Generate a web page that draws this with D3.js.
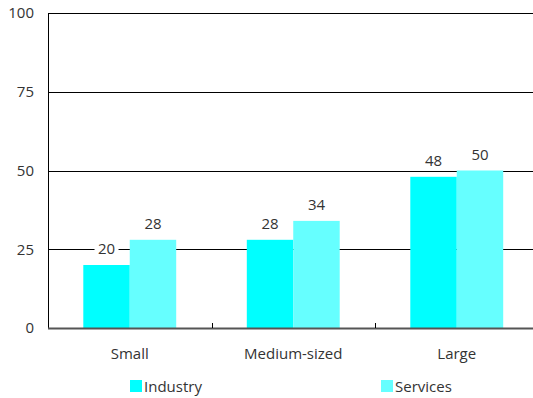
<!DOCTYPE html>
<html>
<head>
<meta charset="utf-8">
<script src="https://cdn.jsdelivr.net/npm/d3@7"></script>
<style>
  html, body { margin: 0; padding: 0; background: #fff; }
  svg { display: block; }
  text { font-family: "Open Sans", "Noto Sans", sans-serif; fill: #333; }
</style>
</head>
<body>
<svg id="chart" width="533" height="398"></svg>
<script>
// Share of firms by size class, industry vs services
const categories = ["Small", "Medium-sized", "Large"];
const seriesNames = ["Industry", "Services"];
const industry = [20, 28, 48];
const services = [28, 34, 50];
const yTicks = [0, 25, 50, 75, 100];
const colors = ["#00FFFF", "#66FFFF"];

const svg = d3.select("#chart");
const margin = { left: 48, top: 13, bottom: 70 };
const plotW = 490.5;
const plotH = 398 - margin.top - margin.bottom;
const fontSize = "15px";

const x = d3.scaleBand().domain(categories).range([margin.left, margin.left + plotW]).paddingInner(0).paddingOuter(0);
const inner = d3.scaleBand().domain(seriesNames).range([0, x.bandwidth()]).paddingInner(0).paddingOuter(0.76);
const y = d3.scaleLinear().domain([0, 100]).range([margin.top + plotH, margin.top]);

// Horizontal gridlines
svg.append("g").selectAll("line").data(yTicks.filter(t => t > 0)).join("line")
  .attr("x1", margin.left).attr("x2", margin.left + plotW)
  .attr("y1", d => Math.round(y(d)) + 0.5).attr("y2", d => Math.round(y(d)) + 0.5)
  .attr("stroke", "#000").attr("stroke-width", 1);

// Y axis labels
const yAxis = d3.axisLeft(y).tickValues(yTicks).tickSize(0).tickPadding(14);
const yg = svg.append("g").attr("transform", `translate(${margin.left},0)`).call(yAxis);
yg.select(".domain").remove();
yg.selectAll("text").style("font-size", fontSize).attr("fill", "#333")
  .style("font-family", '"Open Sans", "Noto Sans", sans-serif');

// Bars
const rows = categories.map((c, i) => ({ cat: c, vals: [industry[i], services[i]] }));
const groups = svg.append("g").selectAll("g").data(rows).join("g")
  .attr("transform", d => `translate(${x(d.cat)},0)`);
groups.selectAll("rect").data(d => d.vals.map((v, j) => ({ v, s: seriesNames[j], j }))).join("rect")
  .attr("x", d => inner(d.s)).attr("width", inner.bandwidth())
  .attr("y", d => y(d.v)).attr("height", d => y(0) - y(d.v))
  .attr("fill", d => colors[d.j]);

// Value labels with white backing
groups.each(function (d) {
  const g = d3.select(this);
  d.vals.forEach((v, j) => {
    const cx = inner(seriesNames[j]) + inner.bandwidth() / 2;
    const by = y(v) - 11;
    g.append("rect").attr("x", cx - 12).attr("y", by - 14).attr("width", 24).attr("height", 17).attr("fill", "#fff");
    g.append("text").attr("x", cx).attr("y", by).attr("text-anchor", "middle")
      .style("font-size", fontSize).text(v);
  });
});

// Left axis and baseline
svg.append("line").attr("x1", margin.left + 0.5).attr("x2", margin.left + 0.5)
  .attr("y1", margin.top).attr("y2", y(0)).attr("stroke", "#000");
svg.append("line").attr("x1", margin.left).attr("x2", margin.left + plotW)
  .attr("y1", y(0) + 0.5).attr("y2", y(0) + 0.5).attr("stroke", "#555").attr("stroke-width", 2);

// Category separator ticks
svg.append("g").selectAll("line").data(categories.slice(1)).join("line")
  .attr("x1", d => Math.round(x(d)) + 0.5).attr("x2", d => Math.round(x(d)) + 0.5)
  .attr("y1", y(0)).attr("y2", y(0) - 5).attr("stroke", "#000");

// Category labels
svg.append("g").selectAll("text").data(categories).join("text")
  .attr("x", d => x(d) + x.bandwidth() / 2).attr("y", 359)
  .attr("text-anchor", "middle").style("font-size", fontSize).text(d => d);

// Legend
const legendX = [130, 381];
const lg = svg.append("g").selectAll("g").data(seriesNames).join("g")
  .attr("transform", (d, i) => `translate(${legendX[i]},380)`);
lg.append("rect").attr("width", 12).attr("height", 12).attr("fill", (d, i) => colors[i]);
lg.append("text").attr("x", 14).attr("y", 12).style("font-size", fontSize).text(d => d);
</script>
</body>
</html>
